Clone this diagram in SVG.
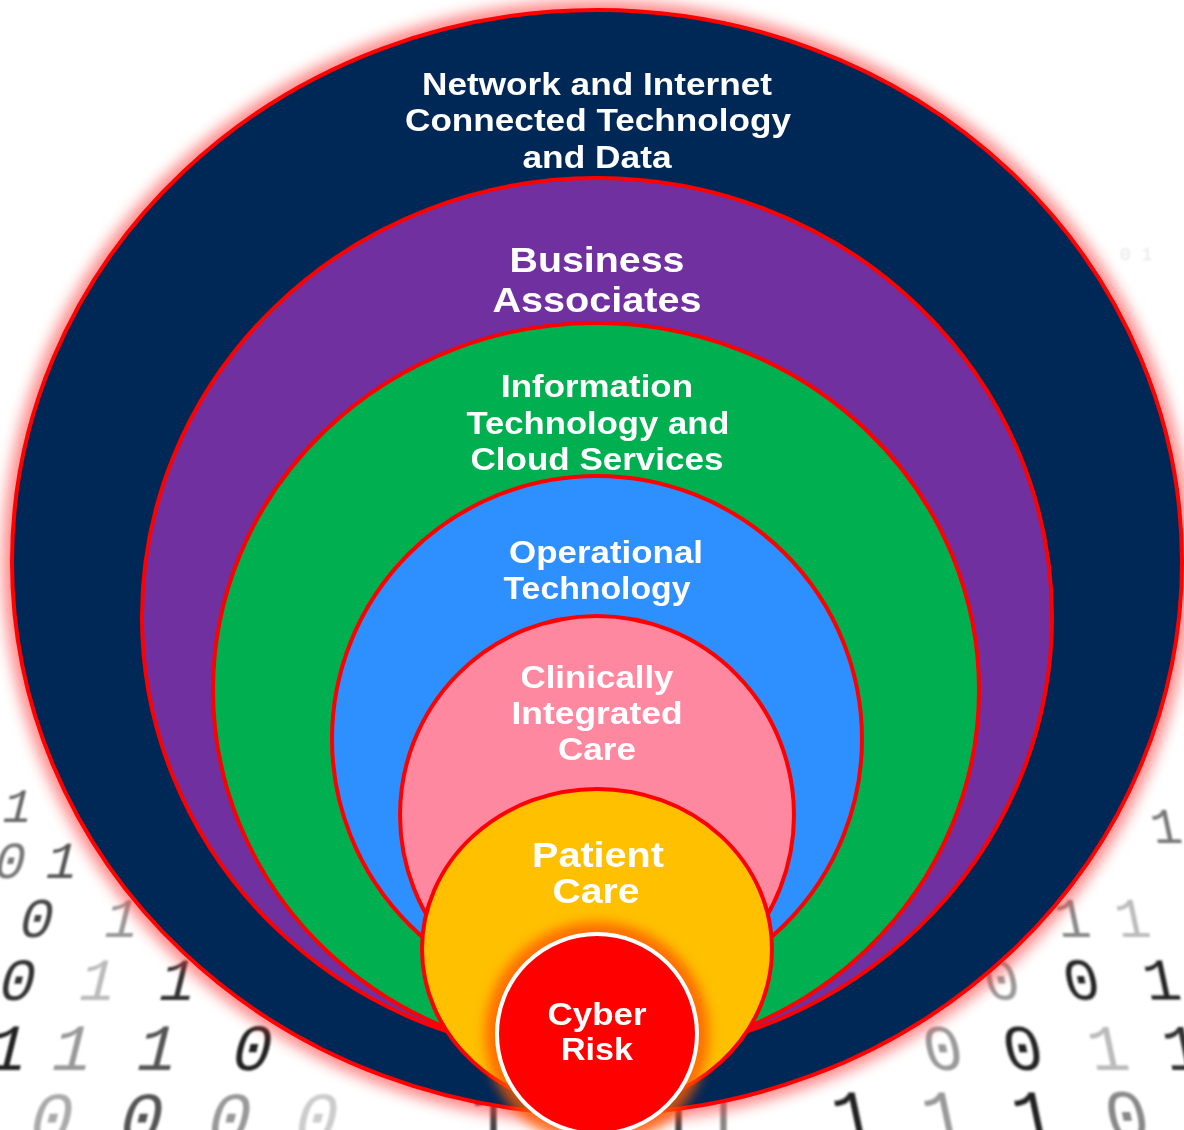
<svg xmlns="http://www.w3.org/2000/svg" width="1184" height="1130" viewBox="0 0 1184 1130">
<defs>
<style>
.lbl{font-family:"Liberation Sans",Arial,sans-serif;font-weight:bold;fill:#ffffff;text-anchor:middle}
.ring{stroke:#ff0000;stroke-width:4}
.dg{font-family:"Liberation Mono","DejaVu Sans Mono",monospace}
</style>
<filter id="blur8" x="-20%" y="-20%" width="140%" height="140%"><feGaussianBlur stdDeviation="7"/></filter>
<filter id="blur5" x="-30%" y="-30%" width="160%" height="160%"><feGaussianBlur stdDeviation="6"/></filter>
<filter id="blur2" x="-20%" y="-20%" width="140%" height="140%"><feGaussianBlur stdDeviation="1.2"/></filter>
</defs>
<rect width="1184" height="1130" fill="#ffffff"/>
<g id="background-digits" class="dg" filter="url(#blur2)">
<g transform="skewX(-14)" font-size="56">
<text x="205" y="822" fill="#666" font-size="48">1</text>
<text x="210" y="878" fill="#777" font-size="52">0</text>
<text x="262" y="878" fill="#555" font-size="52">1</text>
<text x="250" y="937" fill="#444">0</text>
<text x="335" y="937" fill="#999">1</text>
<text x="245" y="1000" fill="#333" font-size="60">0</text>
<text x="325" y="1000" fill="#bbb" font-size="60">1</text>
<text x="405" y="1000" fill="#333" font-size="60">1</text>
<text x="250" y="1070" fill="#222" font-size="66">1</text>
<text x="315" y="1070" fill="#999" font-size="66">1</text>
<text x="400" y="1070" fill="#555" font-size="66">1</text>
<text x="495" y="1070" fill="#222" font-size="66">0</text>
<text x="310" y="1142" fill="#aaa" font-size="72">0</text>
<text x="400" y="1142" fill="#555" font-size="72">0</text>
<text x="488" y="1142" fill="#999" font-size="72">0</text>
<text x="575" y="1142" fill="#ccc" font-size="72">0</text>
</g>
<g transform="skewX(12)" font-size="56">
<text x="975" y="843" fill="#777" font-size="50">1</text>
<text x="920" y="937" fill="#bbb">1</text>
<text x="860" y="937" fill="#888">1</text>
<text x="855" y="1000" fill="#222" font-size="60">0</text>
<text x="935" y="1000" fill="#222" font-size="60">1</text>
<text x="775" y="1000" fill="#999" font-size="60">0</text>
<text x="780" y="1070" fill="#222" font-size="66">0</text>
<text x="865" y="1070" fill="#bbb" font-size="66">1</text>
<text x="940" y="1070" fill="#333" font-size="66">1</text>
<text x="700" y="1070" fill="#999" font-size="66">0</text>
<text x="595" y="1140" fill="#222" font-size="72">1</text>
<text x="685" y="1140" fill="#999" font-size="72">1</text>
<text x="775" y="1140" fill="#222" font-size="72">1</text>
<text x="868" y="1140" fill="#888" font-size="72">0</text>
</g>
<g font-size="60" fill="#444">
<text x="470" y="1140" font-size="70">1</text>
<text x="655" y="1140" font-size="70">1</text>
<text x="700" y="1140" font-size="70" fill="#888">1</text>
</g>
<g font-size="18" fill="#e6e6e6">
<text x="20" y="330" transform="skewX(-10)">0 1</text>
<text x="30" y="460" transform="skewX(-10)">1 0</text>
<text x="1120" y="260">0 1</text>
<text x="1110" y="400">1 0</text>
</g>
</g>
<ellipse cx="597" cy="562" rx="595" ry="562" fill="#ff3030" opacity="0.55" filter="url(#blur8)"/>
<g id="node-network">
<ellipse class="ring" cx="597" cy="562" rx="585" ry="552" fill="#002856"/>
<text class="lbl" font-size="32" x="597" y="95" textLength="350" lengthAdjust="spacingAndGlyphs">Network and Internet</text>
<text class="lbl" font-size="32" x="598" y="131" textLength="386" lengthAdjust="spacingAndGlyphs">Connected Technology</text>
<text class="lbl" font-size="32" x="597" y="168" textLength="149" lengthAdjust="spacingAndGlyphs">and Data</text>
</g>
<g id="node-business">
<ellipse class="ring" cx="597" cy="617" rx="455" ry="439" fill="#7030a0"/>
<text class="lbl" font-size="35" x="597" y="272" textLength="175" lengthAdjust="spacingAndGlyphs">Business</text>
<text class="lbl" font-size="35" x="597" y="312" textLength="209" lengthAdjust="spacingAndGlyphs">Associates</text>
</g>
<g id="node-it">
<ellipse class="ring" cx="596" cy="690" rx="383" ry="367" fill="#00b050"/>
<text class="lbl" font-size="31" x="597" y="397" textLength="192" lengthAdjust="spacingAndGlyphs">Information</text>
<text class="lbl" font-size="31" x="598" y="434" textLength="263" lengthAdjust="spacingAndGlyphs">Technology and</text>
<text class="lbl" font-size="31" x="597" y="470" textLength="253" lengthAdjust="spacingAndGlyphs">Cloud Services</text>
</g>
<g id="node-ot">
<ellipse class="ring" cx="597" cy="739" rx="265" ry="263" fill="#2e8fff"/>
<text class="lbl" font-size="32" x="606" y="563" textLength="194" lengthAdjust="spacingAndGlyphs">Operational</text>
<text class="lbl" font-size="32" x="597" y="599" textLength="187" lengthAdjust="spacingAndGlyphs">Technology</text>
</g>
<g id="node-clinical">
<ellipse class="ring" cx="597" cy="815" rx="197" ry="199" fill="#ff88a1"/>
<text class="lbl" font-size="32" x="597" y="688" textLength="153" lengthAdjust="spacingAndGlyphs">Clinically</text>
<text class="lbl" font-size="32" x="597" y="724" textLength="171" lengthAdjust="spacingAndGlyphs">Integrated</text>
<text class="lbl" font-size="32" x="597" y="760" textLength="78" lengthAdjust="spacingAndGlyphs">Care</text>
</g>
<g id="node-patient">
<ellipse class="ring" cx="597" cy="949" rx="175" ry="160" fill="#ffc000"/>
<text class="lbl" font-size="35" x="598" y="867" textLength="132" lengthAdjust="spacingAndGlyphs">Patient</text>
<text class="lbl" font-size="35" x="596" y="903" textLength="87" lengthAdjust="spacingAndGlyphs">Care</text>
</g>
<circle cx="597" cy="1034" r="112" fill="#ff5a00" opacity="0.8" filter="url(#blur5)"/>
<g id="node-cyber">
<circle cx="597" cy="1034" r="100" fill="#ff0000" stroke="#ffffff" stroke-width="4"/>
<text class="lbl" font-size="32" x="597" y="1025" textLength="99" lengthAdjust="spacingAndGlyphs">Cyber</text>
<text class="lbl" font-size="32" x="597" y="1060" textLength="72" lengthAdjust="spacingAndGlyphs">Risk</text>
</g>
<g id="connectors"/>
</svg>
